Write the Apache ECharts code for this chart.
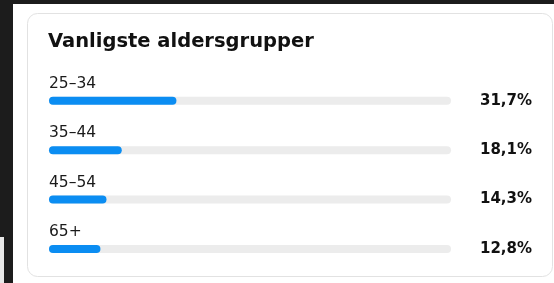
<!DOCTYPE html>
<html>
<head>
<meta charset="utf-8">
<script src="https://cdn.jsdelivr.net/npm/echarts@6/dist/echarts.min.js"></script>
<style>
  html, body { margin: 0; padding: 0; background: #fff; }
  #chart { width: 554px; height: 283px; }
</style>
</head>
<body>
<div id="chart"></div>
<script>
// data
const title = "Vanligste aldersgrupper";
const ageGroups = ["25–34", "35–44", "45–54", "65+"];
const shares = [31.7, 18.1, 14.3, 12.8];
const shareLabels = ["31,7%", "18,1%", "14,3%", "12,8%"];

const font = "'DejaVu Sans', Verdana, sans-serif";
const chart = echarts.init(document.getElementById("chart"), null, { renderer: "canvas" });

chart.setOption({
  animation: false,
  backgroundColor: "#fff",
  graphic: [
    // dark screen frame
    { type: "rect", shape: { x: 0, y: 0, width: 554, height: 4 }, style: { fill: "#1c1c1c" } },
    { type: "rect", shape: { x: 4, y: 0, width: 9, height: 283 }, style: { fill: "#1c1c1c" } },
    { type: "rect", shape: { x: 0, y: 4, width: 4, height: 233 }, style: { fill: "#1c1c1c" } },
    { type: "rect", shape: { x: 0, y: 237, width: 4, height: 46 }, style: { fill: "#e8e8e8" } },
    // card
    {
      type: "rect",
      z: -1,
      shape: { x: 27.5, y: 13.5, width: 525, height: 263, r: 10 },
      style: { fill: "#fff", stroke: "#e2e2e2", lineWidth: 1 }
    },
    {
      type: "text",
      left: 48,
      top: 32,
      style: { text: title, fill: "#111", font: "bold 19.5px " + font }
    }
  ],
  grid: { left: 49, right: 103, top: 76, bottom: 9, containLabel: false },
  xAxis: { type: "value", min: 0, max: 100, show: false },
  yAxis: [
    {
      type: "category",
      data: ageGroups,
      inverse: true,
      axisLine: { show: false },
      axisTick: { show: false },
      axisLabel: {
        inside: true,
        interval: 0,
        showMinLabel: true,
        showMaxLabel: true,
        hideOverlap: false,
        margin: 0,
        align: "left",
        verticalAlign: "middle",
        formatter: v => v + "\n",
        lineHeight: 34,
        color: "#1a1a1a",
        fontSize: 15.5,
        fontFamily: font
      }
    },
    {
      type: "category",
      data: shareLabels,
      inverse: true,
      position: "right",
      axisLine: { show: false },
      axisTick: { show: false },
      axisLabel: {
        interval: 0,
        margin: 81,
        align: "right",
        color: "#111",
        fontSize: 15,
        fontWeight: "bold",
        fontFamily: font
      }
    }
  ],
  series: [
    {
      type: "bar",
      data: shares,
      barWidth: 8,
      itemStyle: { color: "#0b8df2", borderRadius: 4 },
      showBackground: true,
      backgroundStyle: { color: "#ececec", borderRadius: 4 }
    }
  ]
});
</script>
</body>
</html>
